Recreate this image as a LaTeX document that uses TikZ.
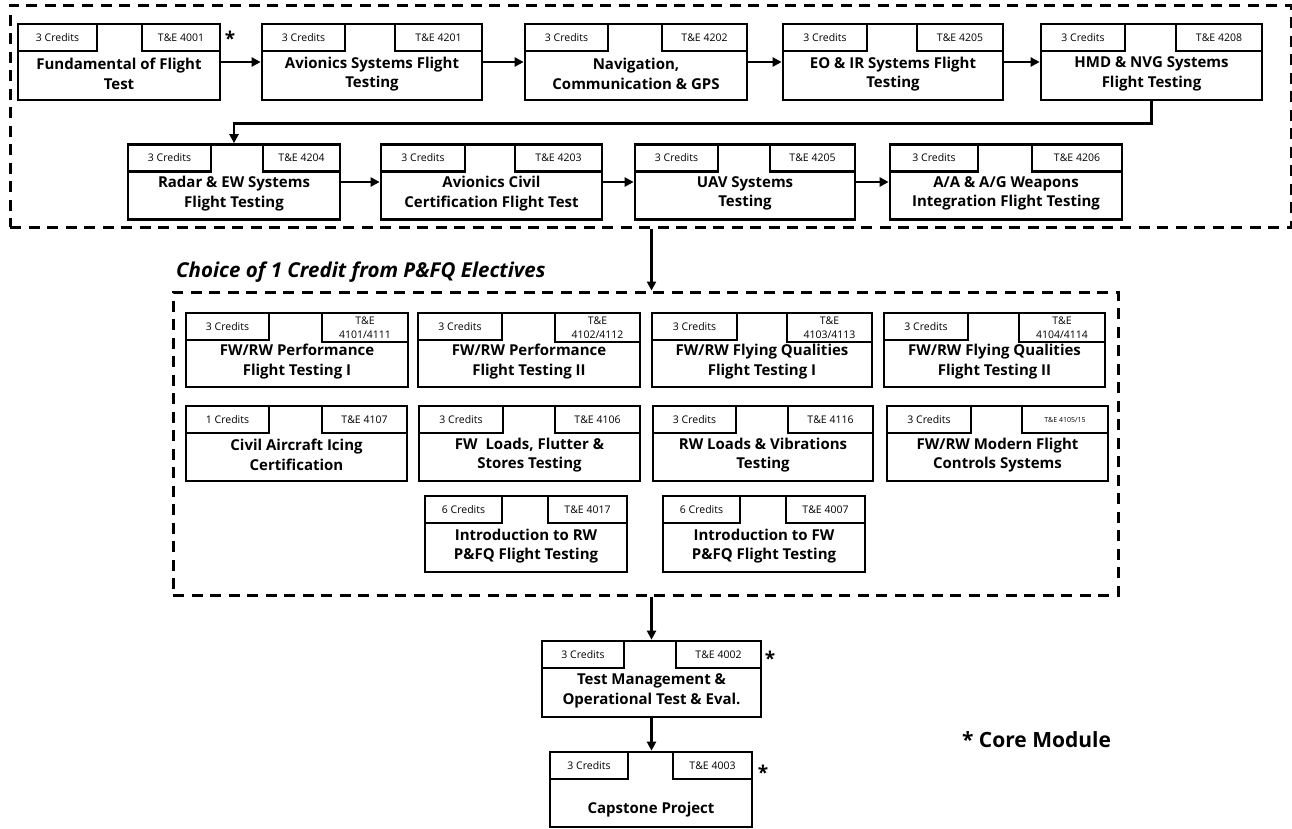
\documentclass[tikz,border=0pt]{standalone}
\usepackage{fontspec}
\setmainfont{Open Sans}
\usepackage{tikz}
\usetikzlibrary{arrows.meta}
\usetikzlibrary{shapes}

\tikzset{
    module/.style = {draw, line width = 2.7pt, minimum width = 220pt, minimum height = 76pt, inner sep = 0pt},
    credtab/.style = {draw, line width = 2.7pt, anchor = north west, minimum width = 84pt, minimum height = 27pt,
        inner sep = 0pt, font = \fontsize{10.5}{12}\selectfont},
    codetab/.style = {draw, line width = 2.7pt, anchor = north east, minimum width = 86pt, minimum height = 27pt,
        inner sep = 0pt, align = center, font = \fontsize{10.5}{14}\selectfont},
    title/.style = {align = center, inner sep = 0pt, font = \fontsize{15}{19.5}\selectfont\bfseries},
    groupbox/.style = {draw, line width = 3pt, dash pattern = on 11pt off 7.5pt, inner sep = 0pt},
    flow/.style = {line width = 2.7pt, -{Triangle[length = 9pt, width = 9pt]}},
    corestar/.style = {font = \fontsize{19}{19}\selectfont\bfseries, inner sep = 0pt}
}

\begin{document}
\begin{tikzpicture}[x = 1pt, y = -1pt]
                \useasboundingbox (0, 0) rectangle (1292, 828);

                \node [groupbox, minimum width = 1281pt, minimum height = 222pt] (core) at (650.5, 116) {};
                \node [groupbox, minimum width = 945pt, minimum height = 303pt] (elec) at (645.5, 443.5) {};
                \node [anchor = west, inner sep = 0pt, font = \fontsize{20.5}{20.5}\selectfont\bfseries\itshape]
                    (choice) at (176, 272) {Choice of 1 Credit from P\&FQ Electives};

                \node [module, minimum width = 202pt] (fund) at (119, 62) {};
                \node [credtab, minimum width = 79pt] (fundC) at (fund.north west) {3 Credits};
                \node [codetab, minimum width = 78pt] (fundK) at (fund.north east) {T\&E 4001};
                \node [title] (fundT) at ([yshift = 27.5pt]fund.south) {Fundamental of Flight\\Test};
                \node [corestar] (fundS) at (230, 38) {*};

                \node [module] (avio) at (372, 62) {};
                \node [credtab, minimum width = 83pt] (avioC) at (avio.north west) {3 Credits};
                \node [codetab, minimum width = 87pt] (avioK) at (avio.north east) {T\&E 4201};
                \node [title] (avioT) at ([yshift = 27.5pt]avio.south) {Avionics Systems Flight\\Testing};

                \node [module, minimum width = 222pt] (nav) at (636, 62) {};
                \node [credtab, minimum width = 83pt] (navC) at (nav.north west) {3 Credits};
                \node [codetab, minimum width = 85pt] (navK) at (nav.north east) {T\&E 4202};
                \node [title] (navT) at ([yshift = 27.5pt]nav.south) {Navigation,\\Communication \& GPS};

                \node [module] (eoir) at (893, 62) {};
                \node [credtab] (eoirC) at (eoir.north west) {3 Credits};
                \node [codetab] (eoirK) at (eoir.north east) {T\&E 4205};
                \node [title] (eoirT) at ([yshift = 27.5pt]eoir.south) {EO \& IR Systems Flight\\Testing};

                \node [module, minimum width = 221pt] (hmd) at (1151.5, 62) {};
                \node [credtab] (hmdC) at (hmd.north west) {3 Credits};
                \node [codetab] (hmdK) at (hmd.north east) {T\&E 4208};
                \node [title] (hmdT) at ([yshift = 27.5pt]hmd.south) {HMD \& NVG Systems\\Flight Testing};

                \node [module, minimum width = 212pt, minimum height = 75pt] (radar) at (234, 182) {};
                \node [credtab, minimum width = 83pt] (radarC) at (radar.north west) {3 Credits};
                \node [codetab, minimum width = 77pt] (radarK) at (radar.north east) {T\&E 4204};
                \node [title] (radarT) at ([yshift = 27.5pt]radar.south) {Radar \& EW Systems\\Flight Testing};

                \node [module, minimum width = 221pt, minimum height = 75pt] (civil) at (491.5, 182) {};
                \node [credtab] (civilC) at (civil.north west) {3 Credits};
                \node [codetab, minimum width = 87pt] (civilK) at (civil.north east) {T\&E 4203};
                \node [title] (civilT) at ([yshift = 27.5pt]civil.south) {Avionics Civil\\Certification Flight Test};

                \node [module, minimum height = 75pt] (uav) at (745, 182) {};
                \node [credtab, minimum width = 83pt] (uavC) at (uav.north west) {3 Credits};
                \node [codetab, minimum width = 85pt] (uavK) at (uav.north east) {T\&E 4205};
                \node [title] (uavT) at ([yshift = 27.5pt]uav.south) {UAV Systems\\Testing};

                \node [module, minimum width = 232pt, minimum height = 75pt] (weap) at (1006, 182) {};
                \node [credtab, minimum width = 88pt] (weapC) at (weap.north west) {3 Credits};
                \node [codetab, minimum width = 90pt] (weapK) at (weap.north east) {T\&E 4206};
                \node [title] (weapT) at ([yshift = 27.5pt]weap.south) {A/A \& A/G Weapons\\Integration Flight Testing};

                \node [module, minimum width = 222pt, minimum height = 74pt] (perfa) at (297, 350) {};
                \node [credtab, minimum width = 83pt] (perfaC) at (perfa.north west) {3 Credits};
                \node [codetab, minimum height = 29pt] (perfaK) at (perfa.north east) {T\&E\\4101/4111};
                \node [title] (perfaT) at ([yshift = 27pt]perfa.south) {FW/RW Performance\\Flight Testing I};

                \node [module, minimum width = 222pt, minimum height = 74pt] (perfb) at (529, 350) {};
                \node [credtab] (perfbC) at (perfb.north west) {3 Credits};
                \node [codetab, minimum width = 85pt, minimum height = 29pt] (perfbK) at (perfb.north east) {T\&E\\4102/4112};
                \node [title] (perfbT) at ([yshift = 27pt]perfb.south) {FW/RW Performance\\Flight Testing II};

                \node [module, minimum height = 74pt] (fqa) at (762, 350) {};
                \node [credtab, minimum width = 85pt] (fqaC) at (fqa.north west) {3 Credits};
                \node [codetab, minimum width = 85pt, minimum height = 29pt] (fqaK) at (fqa.north east) {T\&E\\4103/4113};
                \node [title] (fqaT) at ([yshift = 27pt]fqa.south) {FW/RW Flying Qualities\\Flight Testing I};

                \node [module, minimum width = 221pt, minimum height = 74pt] (fqb) at (994.5, 350) {};
                \node [credtab] (fqbC) at (fqb.north west) {3 Credits};
                \node [codetab, minimum height = 29pt] (fqbK) at (fqb.north east) {T\&E\\4104/4114};
                \node [title] (fqbT) at ([yshift = 27pt]fqb.south) {FW/RW Flying Qualities\\Flight Testing II};

                \node [module, minimum width = 221pt, minimum height = 75pt] (icing) at (296.5, 443.5) {};
                \node [credtab, minimum width = 83pt] (icingC) at (icing.north west) {1 Credits};
                \node [codetab, minimum width = 85pt] (icingK) at (icing.north east) {T\&E 4107};
                \node [title] (icingT) at ([yshift = 27.5pt]icing.south) {Civil Aircraft Icing\\Certification};

                \node [module, minimum width = 221pt, minimum height = 75pt] (flutter) at (529.5, 443.5) {};
                \node [credtab] (flutterC) at (flutter.north west) {3 Credits};
                \node [codetab, minimum width = 85pt] (flutterK) at (flutter.north east) {T\&E 4106};
                \node [title] (flutterT) at ([yshift = 27.5pt]flutter.south) {FW\ \ Loads, Flutter \&\\Stores Testing};

                \node [module, minimum height = 75pt] (loads) at (763, 443.5) {};
                \node [credtab, minimum width = 83pt] (loadsC) at (loads.north west) {3 Credits};
                \node [codetab, minimum width = 85pt] (loadsK) at (loads.north east) {T\&E 4116};
                \node [title] (loadsT) at ([yshift = 27.5pt]loads.south) {RW Loads \& Vibrations\\Testing};

                \node [module, minimum width = 221pt, minimum height = 75pt] (fcs) at (997.5, 443.5) {};
                \node [credtab] (fcsC) at (fcs.north west) {3 Credits};
                \node [codetab, font = \fontsize{7}{9}\selectfont] (fcsK) at (fcs.north east) {T\&E 4105/15};
                \node [title] (fcsT) at ([yshift = 27.5pt]fcs.south) {FW/RW Modern Flight\\Controls Systems};

                \node [module, minimum width = 202pt] (introrw) at (526, 534) {};
                \node [credtab, minimum width = 77pt] (introrwC) at (introrw.north west) {6 Credits};
                \node [codetab, minimum width = 79pt] (introrwK) at (introrw.north east) {T\&E 4017};
                \node [title] (introrwT) at ([yshift = 27.5pt]introrw.south) {Introduction to RW\\P\&FQ Flight Testing};

                \node [module, minimum width = 202pt] (introfw) at (764, 534) {};
                \node [credtab, minimum width = 77pt] (introfwC) at (introfw.north west) {6 Credits};
                \node [codetab, minimum width = 79pt] (introfwK) at (introfw.north east) {T\&E 4007};
                \node [title] (introfwT) at ([yshift = 27.5pt]introfw.south) {Introduction to FW\\P\&FQ Flight Testing};

                \node [module, minimum width = 219pt] (mgmt) at (651.5, 679) {};
                \node [credtab, minimum width = 82pt] (mgmtC) at (mgmt.north west) {3 Credits};
                \node [codetab, minimum width = 85pt] (mgmtK) at (mgmt.north east) {T\&E 4002};
                \node [title] (mgmtT) at ([yshift = 27.5pt]mgmt.south) {Test Management \&\\Operational Test \& Eval.};
                \node [corestar] (mgmtS) at (770, 658) {*};

                \node [module, minimum width = 202pt, minimum height = 75pt] (cap) at (651, 789.5) {};
                \node [credtab, minimum width = 78pt] (capC) at (cap.north west) {3 Credits};
                \node [codetab, minimum width = 79pt] (capK) at (cap.north east) {T\&E 4003};
                \node [title] (capT) at ([yshift = 19pt]cap.south) {Capstone Project};
                \node [corestar] (capS) at (763, 772) {*};

                \node [inner sep = 0pt, font = \fontsize{21}{21}\selectfont\bfseries] (note) at (1036.5, 740) {* Core Module};

                \draw [flow] (fund.east) -- (avio.west);
                \draw [flow] (avio.east) -- (nav.west);
                \draw [flow] (nav.east) -- (eoir.west);
                \draw [flow] (eoir.east) -- (hmd.west);
                \draw [flow] (hmd.south) -- ++(0, 22) -| (radar.north);
                \draw [flow] (radar.east) -- (civil.west);
                \draw [flow] (civil.east) -- (uav.west);
                \draw [flow] (uav.east) -- (weap.west);
                \draw [flow] (mgmt.north |- core.south) -- (mgmt.north |- elec.north);
                \draw [flow] (mgmt.north |- elec.south) -- (mgmt.north);
                \draw [flow] (mgmt.south) -- (mgmt.south |- cap.north);
            \end{tikzpicture}
\end{document}
